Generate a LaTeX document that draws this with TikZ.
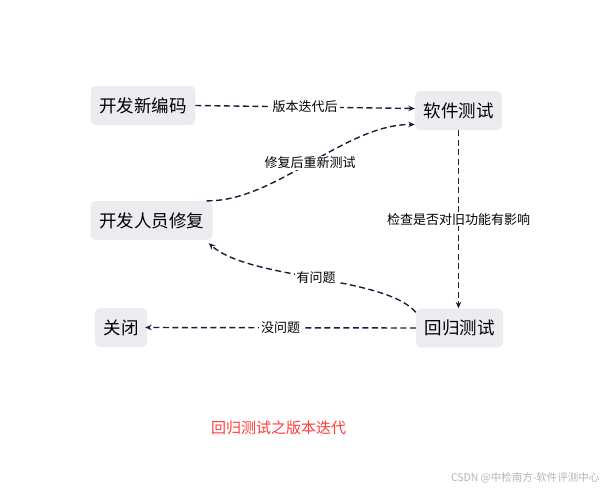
\documentclass[tikz,border=0pt]{standalone}
\usepackage{fontspec}
\setmainfont{Noto Sans CJK SC}
\usetikzlibrary{arrows.meta}
\definecolor{boxfill}{HTML}{EDEBEF}
\definecolor{edgecol}{HTML}{1C1C3C}
\definecolor{titlered}{HTML}{FF3A3A}
\definecolor{wmgray}{HTML}{B4B4B4}
\tikzset{
  stbox/.style={fill=boxfill, rounded corners=5pt, inner xsep=8.5pt, inner ysep=0pt, minimum height=39pt, font=\fontsize{17.5}{20}\selectfont, text=black},
  conn/.style={draw=edgecol, line width=1.4pt, dash pattern=on 6pt off 3.5pt, -{Stealth[length=6.5pt,width=5.5pt]}},
  lbl/.style={fill=white, inner xsep=2pt, inner ysep=1pt, font=\fontsize{13}{15}\selectfont, text=black}
}
\begin{document}
\begin{tikzpicture}[x=1pt,y=-1pt]
\useasboundingbox (0,0) rectangle (607,490);
\node[stbox] (new) at (143,105.5) {开发新编码};
\node[stbox] (test) at (458.5,110.5) {软件测试};
\node[stbox] (fix) at (151.5,220.5) {开发人员修复};
\node[stbox] (close) at (121,327.5) {关闭};
\node[stbox] (reg) at (459.5,328) {回归测试};
\node[font=\fontsize{15}{18}\selectfont, text=titlered] (title) at (278.5,428) {回归测试之版本迭代};
\node[font=\fontsize{10.5}{12}\selectfont, text=wmgray, anchor=east] (wm) at (603,478) {CSDN @中检南方-软件评测中心};

\draw[conn] (new.east) -- node[lbl] {版本迭代后} ([yshift=2pt]test.west);
\coordinate (fixout) at ([xshift=-6pt]fix.north east);
\coordinate (testin) at ([yshift=-14pt]test.west);
\draw[conn] (fixout) .. controls (275,202) and (345,124) .. node[lbl] {修复后重新测试} (testin);
\draw[conn] (test.south) -- node[lbl] {检查是否对旧功能有影响} (reg.north -| test.south);
\coordinate (regout) at ([yshift=-4pt]reg.north west);
\coordinate (fixin) at ([xshift=-4pt,yshift=-3pt]fix.south east);
\draw[conn] (regout) .. controls (385,276) and (250,280) .. node[lbl] {有问题} (fixin);
\draw[conn] (reg.west) -- node[lbl] {没问题} ([xshift=-2pt]close.east);
\end{tikzpicture}
\end{document}
